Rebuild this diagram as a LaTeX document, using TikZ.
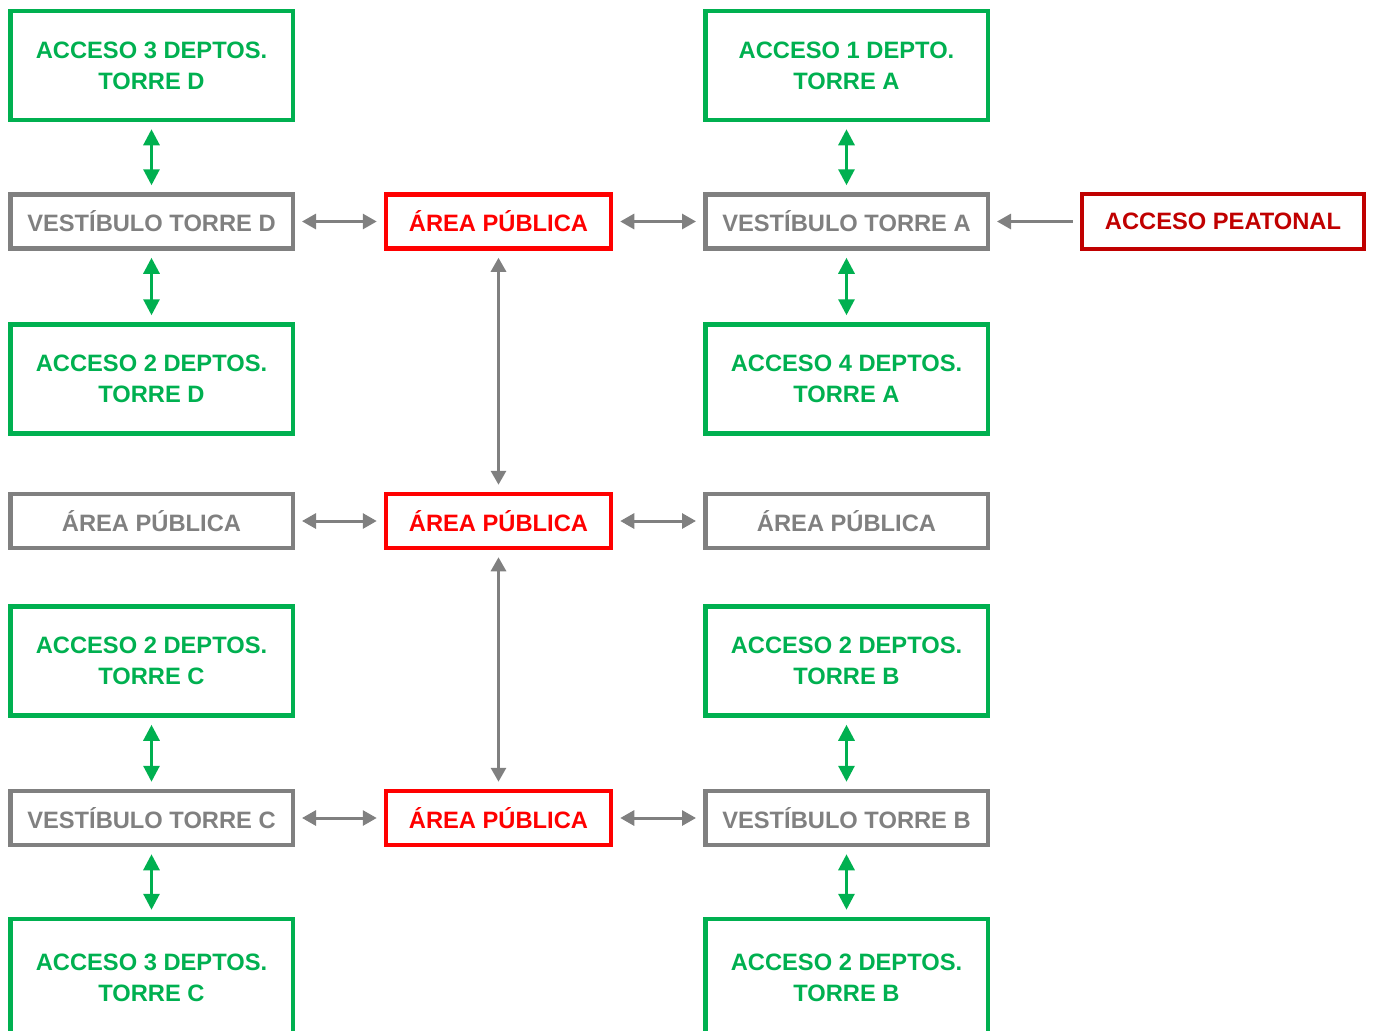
\documentclass[tikz,border=0pt]{standalone}
\usepackage{fontspec}
\setmainfont{Liberation Sans}
\usepackage{tikz}
\usetikzlibrary{arrows.meta,positioning}
\definecolor{accgreen}{HTML}{00B050}
\definecolor{vgray}{HTML}{808080}
\definecolor{pubred}{HTML}{FF0000}
\definecolor{darkred}{HTML}{C00000}

\begin{document}
\begin{tikzpicture}[x=0.5pt,y=-0.5pt,
  box/.style={align=center,inner sep=0pt,line width=2.25pt,
    font=\bfseries\fontsize{11.85}{15.5}\selectfont},
  accbox/.style={box,draw=accgreen,text=accgreen,minimum width=141.25pt,minimum height=54.5pt},
  vestbox/.style={box,draw=vgray,text=vgray,minimum width=141.25pt,minimum height=27pt},
  pubbox/.style={box,draw=pubred,text=pubred,minimum width=112.5pt,minimum height=27pt},
  peatbox/.style={box,draw=darkred,text=darkred,minimum width=141pt,minimum height=27.5pt},
  garrow/.style={draw=accgreen,line width=1.5pt,
    {Triangle[length=8pt,width=8pt]}-{Triangle[length=8pt,width=8pt]},
    shorten >=3.5pt,shorten <=3.5pt},
  gyarrow/.style={draw=vgray,line width=1.5pt,
    {Triangle[length=7pt,width=7.5pt]}-{Triangle[length=7pt,width=7.5pt]},
    shorten >=3.5pt,shorten <=3.5pt}]
  \useasboundingbox (0,0) rectangle (1378,1030);
  \clip (0,0) rectangle (1378,1030);

  % torre D
  \node[accbox] (accD3) at (151.5,65.5) {ACCESO 3 DEPTOS.\\TORRE D};
  \node[vestbox] (vestD) at (151.5,221.5) {VESTÍBULO TORRE D};
  \node[accbox] (accD2) at (151.5,379) {ACCESO 2 DEPTOS.\\TORRE D};
  \node[vestbox] (areaL) at (151.5,521) {ÁREA PÚBLICA};
  % torre C
  \node[accbox] (accC2) at (151.5,661) {ACCESO 2 DEPTOS.\\TORRE C};
  \node[vestbox] (vestC) at (151.5,818) {VESTÍBULO TORRE C};
  \node[accbox,minimum height=59pt] (accC3) at (151.5,978) {ACCESO 3 DEPTOS.\\TORRE C};

  % areas publicas
  \node[pubbox] (pubN) at (498.5,221.5) {ÁREA PÚBLICA};
  \node[pubbox] (pubM) at (498.5,521) {ÁREA PÚBLICA};
  \node[pubbox] (pubS) at (498.5,818) {ÁREA PÚBLICA};

  % torre A
  \node[accbox] (accA1) at (846.5,65.5) {ACCESO 1 DEPTO.\\TORRE A};
  \node[vestbox] (vestA) at (846.5,221.5) {VESTÍBULO TORRE A};
  \node[accbox] (accA4) at (846.5,379) {ACCESO 4 DEPTOS.\\TORRE A};
  \node[vestbox] (areaR) at (846.5,521) {ÁREA PÚBLICA};
  % torre B
  \node[accbox] (accB2a) at (846.5,661) {ACCESO 2 DEPTOS.\\TORRE B};
  \node[vestbox] (vestB) at (846.5,818) {VESTÍBULO TORRE B};
  \node[accbox,minimum height=59pt] (accB2b) at (846.5,978) {ACCESO 2 DEPTOS.\\TORRE B};

  \node[peatbox] (peat) at (1223,221.5) {ACCESO PEATONAL};

  \draw[garrow] (accD3) -- (vestD);
  \draw[garrow] (vestD) -- (accD2);
  \draw[garrow] (accC2) -- (vestC);
  \draw[garrow] (vestC) -- (accC3);
  \draw[garrow] (accA1) -- (vestA);
  \draw[garrow] (vestA) -- (accA4);
  \draw[garrow] (accB2a) -- (vestB);
  \draw[garrow] (vestB) -- (accB2b);

  \draw[gyarrow] (vestD) -- (pubN);
  \draw[gyarrow] (pubN) -- (vestA);
  \draw[gyarrow] (areaL) -- (pubM);
  \draw[gyarrow] (pubM) -- (areaR);
  \draw[gyarrow] (vestC) -- (pubS);
  \draw[gyarrow] (pubS) -- (vestB);
  \draw[gyarrow] (pubN) -- (pubM);
  \draw[gyarrow] (pubM) -- (pubS);
  \draw[gyarrow,{Triangle[length=7pt,width=7.5pt]}-] (vestA) -- (peat);
\end{tikzpicture}
\end{document}
